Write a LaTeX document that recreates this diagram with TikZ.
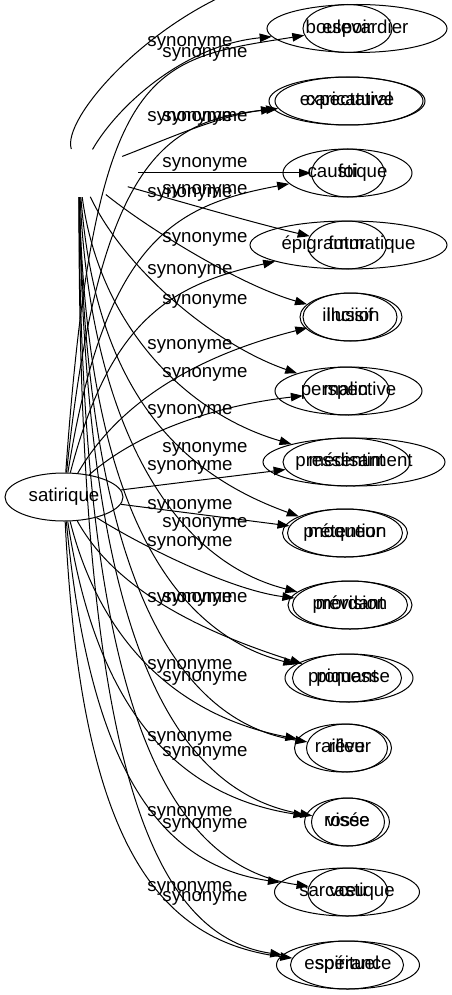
\documentclass[tikz,border=0pt]{standalone}
\usepackage{fontspec}
\setmainfont{Liberation Sans}
\usetikzlibrary{arrows.meta,shapes.geometric}
\tikzset{
    word/.style ={ellipse, draw, line width=1pt, inner sep=0pt, minimum height=48pt,
                  text height=9.7pt, text depth=0pt, font=\fontsize{18.67}{22}\selectfont},
    hidden/.style ={ellipse, inner sep=0pt, minimum width=118pt, minimum height=48pt},
    syn/.style ={-{Triangle[length=12pt,width=8.5pt]}, line width=1pt},
    el/.style ={inner sep=0pt, text height=9.7pt, text depth=0pt, font=\fontsize{18.67}{22}\selectfont}
}

\begin{document}
\begin{tikzpicture}[x=1pt, y=-1pt]
\useasboundingbox (0,0) rectangle (452,995);

% Centre nodes
\node[word, minimum width=118pt] (satirique) at (64,497) {satirique};
\node[hidden] (hub) at (79,173) {};
\coordinate (topend) at (236,-10);

% Right column, two words on each place
\node[word, minimum width=180pt] (boulevardier) at (357,28.5) {boulevardier};
\node[word, minimum width=89pt] (espoir) at (347.5,28.5) {espoir};
\node[word, minimum width=148pt] (caricatural) at (349,101) {caricatural};
\node[word, minimum width=156pt] (expectative) at (347,101) {expectative};
\node[word, minimum width=129pt] (caustique) at (347.5,173) {caustique};
\node[word, minimum width=73pt] (foi) at (348,173) {foi};
\node[word, minimum width=197pt] (epigrammatique) at (348.5,245) {épigrammatique};
\node[word, minimum width=79pt] (futur) at (347,245) {futur};
\node[word, minimum width=94pt] (incisif) at (350,317) {incisif};
\node[word, minimum width=102pt] (illusion) at (351,317) {illusion};
\node[word, minimum width=87pt] (malin) at (346,391) {malin};
\node[word, minimum width=147pt] (perspective) at (348.5,391) {perspective};
\node[word, minimum width=127pt] (medisant) at (346.5,462) {médisant};
\node[word, minimum width=182pt] (pressentiment) at (354,462) {pressentiment};
\node[word, minimum width=115pt] (moqueur) at (345,533) {moqueur};
\node[word, minimum width=125pt] (pretention) at (345,533) {prétention};
\node[word, minimum width=115pt] (mordant) at (350,605) {mordant};
\node[word, minimum width=124pt] (prevision) at (350,605) {prévision};
\node[word, minimum width=109pt] (piquant) at (347,678) {piquant};
\node[word, minimum width=128pt] (promesse) at (349,678) {promesse};
\node[word, minimum width=97pt] (railleur) at (343,748) {railleur};
\node[word, minimum width=81pt] (reve) at (347,748) {rêve};
\node[word, minimum width=85pt] (rosse) at (347,822) {rosse};
\node[word, minimum width=73pt] (visee) at (348,822) {visée};
\node[word, minimum width=145pt] (sarcastique) at (347,892) {sarcastique};
\node[word, minimum width=80pt] (voeu) at (348,892) {vœu};
\node[word, minimum width=113pt] (spirituel) at (347,965) {spirituel};
\node[word, minimum width=143pt] (esperance) at (348,965) {espérance};

% Edge labels
\foreach \y in {42,117,193,270,345,410,466,505,542,598,665,737,812,887}
  \node[el] (a\y) at (190,\y) {synonyme};
\foreach \y in {53,117,163,190,238,300,373,448,523,598,677,752,824,897}
  \node[el] (b\y) at (205,\y) {synonyme};

% Edges from the hidden centre
\draw[line width=1pt] (hub) .. controls (62,120) and (140,30) .. (topend);
\draw[syn] (hub) .. controls (118,105) and (185,45) .. (boulevardier);
\draw[syn] (hub) .. controls (165,140) and (220,115) .. (expectative);
\draw[syn] (hub) -- (foi);
\draw[syn] (hub) .. controls (175,200) and (250,222) .. (futur);
\draw[syn] (hub) .. controls (150,230) and (240,285) .. (illusion);
\draw[syn] (hub) .. controls (125,270) and (215,345) .. (perspective);
\draw[syn] (hub) .. controls (100,330) and (190,415) .. (pressentiment);
\draw[syn] (hub) .. controls (95,380) and (170,470) .. (pretention);
\draw[syn] (hub) .. controls (90,420) and (170,560) .. (prevision);
\draw[syn] (hub) .. controls (85,480) and (160,630) .. (promesse);
\draw[syn] (hub) .. controls (85,550) and (165,720) .. (reve);
\draw[syn] (hub) .. controls (85,620) and (165,790) .. (visee);
\draw[syn] (hub) .. controls (80,690) and (160,865) .. (voeu);
\draw[syn] (hub) .. controls (78,760) and (150,935) .. (esperance);

% Edges from satirique
\draw[syn] (satirique) .. controls (95,60) and (150,60) .. (espoir);
\draw[syn] (satirique) .. controls (100,150) and (170,120) .. (caricatural);
\draw[syn] (satirique) .. controls (105,240) and (175,205) .. (caustique);
\draw[syn] (satirique) .. controls (110,320) and (170,285) .. (epigrammatique);
\draw[syn] (satirique) .. controls (120,400) and (200,355) .. (incisif);
\draw[syn] (satirique) .. controls (140,430) and (220,405) .. (malin);
\draw[syn] (satirique) -- (medisant);
\draw[syn] (satirique) -- (moqueur);
\draw[syn] (satirique) .. controls (140,545) and (230,590) .. (mordant);
\draw[syn] (satirique) .. controls (110,580) and (180,625) .. (piquant);
\draw[syn] (satirique) .. controls (100,640) and (175,715) .. (railleur);
\draw[syn] (satirique) .. controls (95,700) and (170,795) .. (rosse);
\draw[syn] (satirique) .. controls (90,770) and (160,865) .. (sarcastique);
\draw[syn] (satirique) .. controls (80,830) and (150,940) .. (spirituel);
\end{tikzpicture}
\end{document}
